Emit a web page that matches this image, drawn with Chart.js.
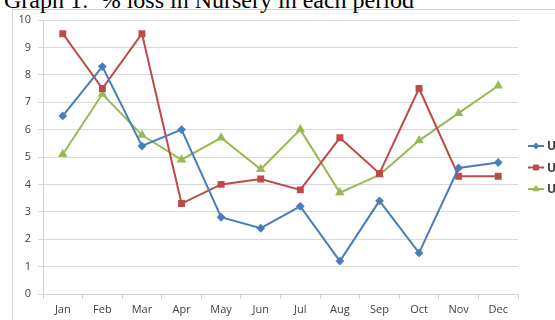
<!DOCTYPE html>
<html>
<head>
<meta charset="utf-8">
<script src="https://cdn.jsdelivr.net/npm/chart.js@4/dist/chart.umd.min.js"></script>
<style>
  html, body { margin: 0; padding: 0; background: #fff; overflow: hidden; width: 555px; height: 320px; }
  #title { position: absolute; left: 4px; top: -13px; font-family: "Liberation Serif", "DejaVu Serif", serif; font-size: 24px; color: #000; white-space: nowrap; line-height: 26px; }
  #frame { position: absolute; left: 12px; top: 9px; width: 600px; height: 400px; border: 1px solid #d4d4d4; box-sizing: border-box; }
  #wrap { position: absolute; left: 0; top: 0; width: 600px; height: 320px; }
</style>
</head>
<body>
<div id="frame"></div>
<div id="title">Graph 1:&nbsp; % loss in Nursery in each period</div>
<div id="wrap"><canvas id="c" width="600" height="320"></canvas></div>
<script>
const months = ['Jan', 'Feb', 'Mar', 'Apr', 'May', 'Jun', 'Jul', 'Aug', 'Sep', 'Oct', 'Nov', 'Dec'];
const seriesNames = ['Unit 1', 'Unit 2', 'Unit 3'];
const unit1 = [6.5, 8.3, 5.4, 6.0, 2.8, 2.4, 3.2, 1.2, 3.4, 1.5, 4.6, 4.8];
const unit2 = [9.5, 7.5, 9.5, 3.3, 4.0, 4.2, 3.8, 5.7, 4.4, 7.5, 4.3, 4.3];
const unit3 = [5.1, 7.3, 5.8, 4.9, 5.7, 4.55, 6.0, 3.7, 4.35, 5.6, 6.6, 7.6];
const yTicks = [0, 1, 2, 3, 4, 5, 6, 7, 8, 9, 10];

const colors = ['#4a7ebb', '#be4b48', '#98b954'];
const shapes = ['rectRot', 'rect', 'triangle'];
const radii = [3, 3.5, 3.5];

// Legend at the right: short line with its marker, then the series name
const sideLegend = {
  id: 'sideLegend',
  afterDraw(chart) {
    const ctx = chart.ctx;
    const x0 = 528, rowTop = 146, rowGap = 21.5;
    chart.data.datasets.forEach((ds, i) => {
      const y = rowTop + i * rowGap;
      ctx.save();
      ctx.strokeStyle = ds.borderColor;
      ctx.fillStyle = ds.borderColor;
      ctx.lineWidth = 2;
      ctx.beginPath();
      ctx.moveTo(x0, y);
      ctx.lineTo(x0 + 16, y);
      ctx.stroke();
      ctx.lineWidth = 1;
      Chart.helpers.drawPoint(ctx, { pointStyle: ds.pointStyle, radius: ds.pointRadius, rotation: 0, borderWidth: 1 }, x0 + 8, y);
      ctx.fillStyle = '#404040';
      ctx.font = 'bold 12px "Open Sans", sans-serif';
      ctx.textBaseline = 'middle';
      ctx.fillText(ds.label, x0 + 19, y + 1);
      ctx.restore();
    });
  }
};

new Chart(document.getElementById('c'), {
  type: 'line',
  data: {
    labels: months,
    datasets: [unit1, unit2, unit3].map((d, i) => ({
      label: seriesNames[i],
      data: d,
      borderColor: colors[i],
      backgroundColor: colors[i],
      pointBackgroundColor: colors[i],
      pointBorderColor: colors[i],
      borderWidth: 2,
      pointStyle: shapes[i],
      pointRadius: radii[i],
      tension: 0
    }))
  },
  options: {
    responsive: false,
    animation: false,
    layout: { padding: { left: 0, right: 82, top: 20, bottom: 0 } },
    plugins: { legend: { display: false }, title: { display: false }, tooltip: { enabled: false } },
    scales: {
      x: {
        offset: true,
        grid: { offset: true, drawOnChartArea: false, drawTicks: true, tickLength: 5, color: '#d0d0d0' },
        border: { color: '#d0d0d0' },
        ticks: { color: '#404040', font: { family: '"Open Sans", sans-serif', size: 11 }, padding: 4, maxRotation: 0, autoSkip: false },
        afterFit(s) { s.height = 26; }
      },
      y: {
        min: 0, max: 10,
        afterBuildTicks(s) { s.ticks = yTicks.map(v => ({ value: v })); },
        grid: { color: '#dadada', tickLength: 5, lineWidth: 1 },
        border: { color: '#d0d0d0' },
        ticks: { color: '#404040', font: { family: '"Open Sans", sans-serif', size: 11 }, padding: 7 },
        afterFit(s) { s.width = 43; }
      }
    }
  },
  plugins: [sideLegend]
});
</script>
</body>
</html>
